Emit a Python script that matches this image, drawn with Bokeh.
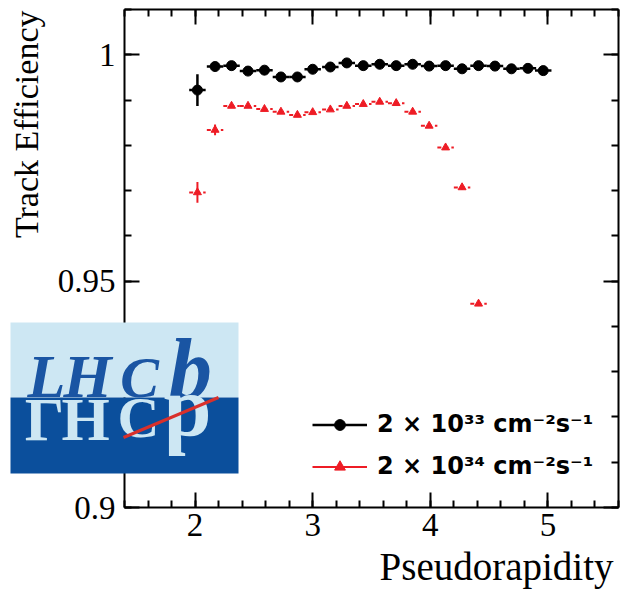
import math
from bokeh.plotting import figure
from bokeh.models import (Range1d, LinearAxis, SingleIntervalTicker, CustomJSTickFormatter,
                          BoxAnnotation, Label, Arrow, Legend, LegendItem, ColumnDataSource)
from bokeh.embed import file_html
from bokeh.resources import INLINE

# ---------------- data ----------------
eta = [2.02, 2.17, 2.31, 2.45, 2.59, 2.73, 2.87, 3.00, 3.15, 3.29, 3.43,
       3.57, 3.71, 3.85, 3.99, 4.13, 4.27, 4.41, 4.55, 4.69, 4.83, 4.96]
eff_lumi33 = [0.9922, 0.9974, 0.9976, 0.9964, 0.9966, 0.9951, 0.9951, 0.9968, 0.9973, 0.9982, 0.9976,
              0.9979, 0.9976, 0.9979, 0.9975, 0.9976, 0.9969, 0.9976, 0.9975, 0.9969, 0.9970, 0.9965]
err_lumi33 = [0.0035, 0.0004, 0.0004, 0.0004, 0.0004, 0.0004, 0.0004, 0.0004, 0.0004, 0.0004, 0.0004,
              0.0004, 0.0004, 0.0004, 0.0004, 0.0004, 0.0004, 0.0004, 0.0004, 0.0004, 0.0004, 0.0004]
eta_34 = eta[:18]
eff_lumi34 = [0.9696, 0.9834, 0.9887, 0.9887, 0.9880, 0.9874, 0.9867, 0.9873, 0.9879, 0.9887,
              0.9891, 0.9896, 0.9893, 0.9874, 0.9843, 0.9795, 0.9707, 0.9450]
err_lumi34 = [0.0023, 0.0012, 0.0003, 0.0003, 0.0003, 0.0003, 0.0003, 0.0003, 0.0003, 0.0003,
              0.0003, 0.0003, 0.0003, 0.0003, 0.0004, 0.0004, 0.0005, 0.0005]
bin_half_width = 0.07
labels = ["2 × 10³³ cm⁻²s⁻¹", "2 × 10³⁴ cm⁻²s⁻¹"]
x_title = "Pseudorapidity"
y_title = "Track Efficiency"

# ---------------- layout constants ----------------
W, H = 621, 594
FL, FR, FT, FB = 124, 618, 9, 507      # plotted box edges in pixels
X0, X1, Y0, Y1 = 1.4, 5.6, 0.9, 1.01  # axis limits
K = 0.31                               # label baseline correction (fraction of font size)

def fx(px):
    return X0 + (px - FL) * (X1 - X0) / (FR - FL)

def fy(py):
    return Y1 - (py - FT) * (Y1 - Y0) / (FB - FT)

# the drawing area spans the whole canvas so the logo may overlap the axis area
p = figure(width=W, height=H, x_range=Range1d(fx(0), fx(W)), y_range=Range1d(fy(H), fy(0)),
           output_backend="svg", toolbar_location=None, title=None,
           x_axis_location=None, y_axis_location=None,
           min_border=0, min_border_left=0, min_border_right=0, min_border_top=0, min_border_bottom=0)
p.xgrid.visible = False
p.ygrid.visible = False
p.outline_line_color = None
p.background_fill_color = "white"
p.border_fill_color = "white"

serif = "Liberation Serif"
xt = SingleIntervalTicker(interval=1, num_minor_ticks=5)
yt = SingleIntervalTicker(interval=0.05, num_minor_ticks=5)
fmt = CustomJSTickFormatter(code="return String(Math.round(tick*100)/100);")
blank = CustomJSTickFormatter(code="return '';")

def make_axis(ticker, loc, bounds, show, standoff):
    ax = LinearAxis(ticker=ticker, formatter=fmt if show else blank,
                    fixed_location=loc, bounds=bounds)
    ax.axis_line_width = 2
    ax.axis_line_color = "black"
    ax.major_tick_in = 15
    ax.major_tick_out = 0
    ax.minor_tick_in = 7
    ax.minor_tick_out = 0
    ax.major_tick_line_width = 2
    ax.minor_tick_line_width = 2
    ax.major_tick_line_color = "black"
    ax.minor_tick_line_color = "black"
    ax.major_label_text_font = serif
    ax.major_label_text_color = "black"
    ax.major_label_standoff = standoff
    ax.major_label_text_font_size = "33px" if show else "0px"
    return ax

p.add_layout(make_axis(xt, Y0, (X0, X1), True, 6), "below")
p.add_layout(make_axis(xt, Y1, (X0, X1), False, 0), "above")
left_ax = make_axis(yt, X0, (Y0, Y1), True, 9)
left_ax.major_label_orientation = "horizontal"
p.add_layout(left_ax, "left")
p.add_layout(make_axis(yt, X1, (Y0, Y1), False, 0), "right")

p.add_layout(Label(x=fx(613), y=fy(578 - K * 39), text=x_title, text_align="right",
                   text_baseline="alphabetic", text_font=serif, text_font_size="39px", text_color="black"))
p.add_layout(Label(x=fx(37 - K * 34), y=fy(10), text=y_title, angle=math.pi / 2, text_align="right",
                   text_baseline="alphabetic", text_font=serif, text_font_size="34px", text_color="black"))

# ---------------- series ----------------
s33 = ColumnDataSource(dict(
    x=eta, y=eff_lumi33,
    xl=[e - bin_half_width for e in eta], xr=[e + bin_half_width for e in eta],
    lo=[v - e for v, e in zip(eff_lumi33, err_lumi33)],
    hi=[v + e for v, e in zip(eff_lumi33, err_lumi33)]))
s34 = ColumnDataSource(dict(
    x=eta_34, y=eff_lumi34,
    xl=[e - bin_half_width for e in eta_34], xr=[e + bin_half_width for e in eta_34],
    lo=[v - e for v, e in zip(eff_lumi34, err_lumi34)],
    hi=[v + e for v, e in zip(eff_lumi34, err_lumi34)]))

red = "#ee1c25"
p.segment(x0="xl", y0="y", x1="xr", y1="y", source=s34, line_color=red, line_width=2, line_dash="4 3")
v34 = p.segment(x0="x", y0="lo", x1="x", y1="hi", source=s34, line_color=red, line_width=2)
m34 = p.scatter(x="x", y="y", source=s34, marker="triangle", size=8, color=red)

h33 = p.segment(x0="xl", y0="y", x1="xr", y1="y", source=s33, line_color="black", line_width=2.5)
p.segment(x0="x", y0="lo", x1="x", y1="hi", source=s33, line_color="black", line_width=2.5)
m33 = p.scatter(x="x", y="y", source=s33, marker="circle", size=10, color="black")

leg = Legend(items=[LegendItem(label=labels[0], renderers=[h33, m33]),
                    LegendItem(label=labels[1], renderers=[v34, m34])],
             location=(312, 114), padding=0, margin=0, border_line_color=None,
             background_fill_alpha=0, glyph_width=55, glyph_height=27, label_height=27,
             label_standoff=10, spacing=14,
             label_text_font="DejaVu Sans", label_text_font_style="bold",
             label_text_font_size="24px", label_text_color="black")
p.add_layout(leg)

# ---------------- LHCb logo ----------------
light = "#cde7f3"
dark = "#0b4f9c"
ink = "#1a55a3"
p.add_layout(BoxAnnotation(left=fx(10), right=fx(238), top=fy(322), bottom=fy(397),
                           fill_color=light, fill_alpha=1, line_color=None, level="overlay"))
p.add_layout(BoxAnnotation(left=fx(10), right=fx(238), top=fy(397), bottom=fy(473),
                           fill_color=dark, fill_alpha=1, line_color=None, level="overlay"))
for ch, cx, size in [("L", 46, 62), ("H", 87, 62), ("C", 139, 58), ("b", 190, 86)]:
    p.add_layout(Label(x=fx(cx), y=fy(395 - K * size), text=ch, text_align="center",
                       text_baseline="alphabetic", text_font=serif, text_font_style="bold italic",
                       text_font_size=f"{size}px", text_color=ink, level="overlay"))
for ch, cx, size in [("Γ", 44, 62), ("H", 85, 62), ("C", 138, 58)]:
    base = 397 + 0.662 * size
    p.add_layout(Label(x=fx(cx), y=fy(base - K * size), text=ch, text_align="center",
                       text_baseline="alphabetic", text_font=serif, text_font_style="bold",
                       text_font_size=f"{size}px", text_color=light, level="overlay"))
p.add_layout(Label(x=fx(187), y=fy(398 + K * 86), text="d", text_align="center",
                   text_baseline="alphabetic", angle=math.pi, text_font=serif, text_font_style="bold",
                   text_font_size="86px", text_color=light, level="overlay"))
p.add_layout(Arrow(end=None, x_start=fx(123), y_start=fy(437), x_end=fx(218), y_end=fy(397),
                   line_color="#d9302b", line_width=3, level="overlay"))

open("out.html", "w").write(file_html(p, INLINE))
